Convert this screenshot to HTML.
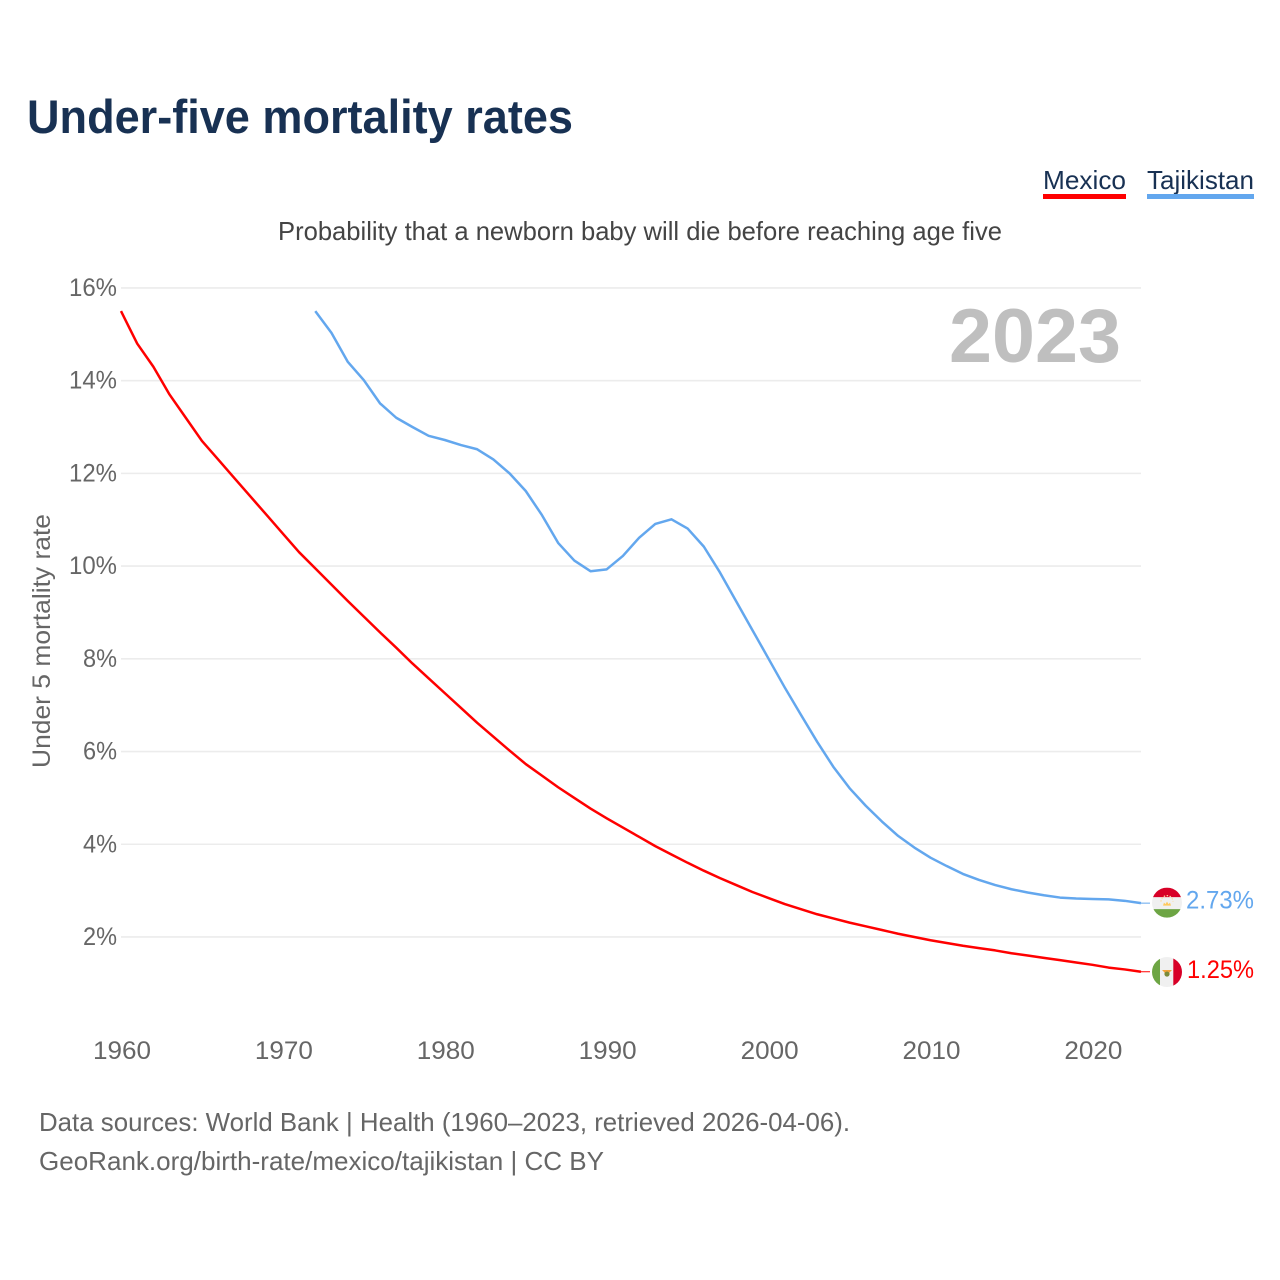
<!DOCTYPE html>
<html lang="en">
<head>
<meta charset="utf-8">
<title>Under-five mortality rates</title>
<style>
html,body{margin:0;padding:0;background:#fff;width:1280px;height:1280px;overflow:hidden}
svg{display:block}
text{font-family:"Liberation Sans",sans-serif}
</style>
</head>
<body>
<svg id="chart" xmlns="http://www.w3.org/2000/svg" width="1280" height="1280" viewBox="0 0 1280 1280">
  <text x="27" y="133" font-size="47" font-weight="700" fill="#183153" textLength="546" lengthAdjust="spacingAndGlyphs">Under-five mortality rates</text>
  <g>
    <text x="1043" y="189" font-size="26" fill="#183153" textLength="83" lengthAdjust="spacingAndGlyphs">Mexico</text>
    <rect x="1043" y="194" width="83" height="5" fill="#ff0000"/>
  </g>
  <g>
    <text x="1147" y="189" font-size="26" fill="#183153" textLength="107" lengthAdjust="spacingAndGlyphs">Tajikistan</text>
    <rect x="1147" y="194" width="107" height="5" fill="#63a7ee"/>
  </g>
  <text x="278" y="240" font-size="26" fill="#444444" textLength="724" lengthAdjust="spacingAndGlyphs">Probability that a newborn baby will die before reaching age five</text>
  <g id="grid"></g>
  <g id="yticks"></g>
  <g id="xticks"></g>
  <text transform="translate(50,768) rotate(-90)" x="0" y="0" font-size="25" fill="#666666" textLength="254" lengthAdjust="spacingAndGlyphs">Under 5 mortality rate</text>
  <text x="949" y="362" font-size="76" font-weight="700" fill="#bfbfbf" textLength="172" lengthAdjust="spacingAndGlyphs">2023</text>
  <g id="series"></g>
  <g id="flag-tj"></g>
  <g id="flag-mx"></g>
  <g id="endlabels"></g>
  <text x="39" y="1131" font-size="26" fill="#666666" textLength="811" lengthAdjust="spacingAndGlyphs">Data sources: World Bank | Health (1960–2023, retrieved 2026-04-06).</text>
  <text x="39" y="1170" font-size="26" fill="#666666" textLength="565" lengthAdjust="spacingAndGlyphs">GeoRank.org/birth-rate/mexico/tajikistan | CC BY</text>
</svg>
<script>
const yTickValues = [2, 4, 6, 8, 10, 12, 14, 16];
const xTickYears = [1960, 1970, 1980, 1990, 2000, 2010, 2020];
const mexicoStartYear = 1960;
const mexicoValues = [15.5,14.8,14.3,13.7,13.2,12.7,12.3,11.9,11.5,11.1,10.7,10.3,9.95,9.6,9.25,8.91,8.57,8.24,7.9,7.58,7.26,6.94,6.62,6.32,6.02,5.73,5.48,5.23,5.0,4.77,4.56,4.36,4.16,3.96,3.78,3.6,3.43,3.27,3.12,2.97,2.84,2.71,2.6,2.49,2.4,2.31,2.23,2.15,2.07,2.0,1.93,1.87,1.81,1.76,1.71,1.65,1.6,1.55,1.5,1.45,1.4,1.34,1.3,1.25];
const tajikistanStartYear = 1972;
const tajikistanValues = [15.5,15.03,14.41,14.01,13.51,13.2,13.0,12.81,12.72,12.61,12.52,12.3,12.0,11.62,11.1,10.5,10.12,9.89,9.93,10.22,10.61,10.91,11.01,10.81,10.42,9.86,9.24,8.62,8.0,7.38,6.79,6.21,5.67,5.21,4.83,4.49,4.18,3.93,3.71,3.53,3.36,3.23,3.12,3.03,2.96,2.9,2.85,2.83,2.82,2.81,2.78,2.73];
const mexicoEndLabel = "1.25%";
const tajikistanEndLabel = "2.73%";

const NS = "http://www.w3.org/2000/svg";
function xScale(year) { return 121 + (year - 1960) * 16.19; }
function yScale(v) { return 1029.7 - v * 46.36; }
function mk(tag, parent, attrs) {
  const el = document.createElementNS(NS, tag);
  for (const k in attrs) el.setAttribute(k, attrs[k]);
  parent.appendChild(el);
  return el;
}

const grid = document.getElementById("grid");
const yticks = document.getElementById("yticks");
yTickValues.forEach(function (v) {
  const line = mk("line", grid, {x1: 121, x2: 1141, y1: yScale(v), y2: yScale(v), stroke: "#ececec", "stroke-width": 1.6});
  
  
  const label = v + "%";
  const t = mk("text", yticks, {x: 117, y: yScale(v) + 8, "text-anchor": "end", "font-size": 25, fill: "#666666", textLength: label.length === 3 ? 48 : 34, lengthAdjust: "spacingAndGlyphs"});
  
  
  t.textContent = label;
});

const xticks = document.getElementById("xticks");
xTickYears.forEach(function (yr) {
  const t = mk("text", xticks, {x: xScale(yr) + 1, y: 1059, "text-anchor": "middle", "font-size": 25, fill: "#666666", textLength: 58, lengthAdjust: "spacingAndGlyphs"});
  
  
  t.textContent = yr;
});

function pathFor(values, start) {
  return values.map(function (v, i) {
    return (i ? "L" : "M") + xScale(start + i).toFixed(2) + " " + yScale(v).toFixed(2);
  }).join(" ");
}
const series = document.getElementById("series");
const mxLine = mk("path", series, {d: pathFor(mexicoValues, mexicoStartYear), fill: "none", stroke: "#ff0000", "stroke-width": 2.5, "stroke-linejoin": "round"});


const tjLine = mk("path", series, {d: pathFor(tajikistanValues, tajikistanStartYear), fill: "none", stroke: "#63a7ee", "stroke-width": 2.5, "stroke-linejoin": "round"});



const mxLast = yScale(mexicoValues[mexicoValues.length - 1]);
const tjLast = yScale(tajikistanValues[tajikistanValues.length - 1]);
const lastX = xScale(2023);
const mxLead = mk("line", series, {x1: lastX, x2: 1150, y1: mxLast, y2: mxLast, stroke: "#ff0000", "stroke-width": 1});


const tjLead = mk("line", series, {x1: lastX, x2: 1150, y1: tjLast, y2: tjLast, stroke: "#63a7ee", "stroke-width": 1});



/* flags follow the series end values */
const cx = 1167, r = 15;
const tj = document.getElementById("flag-tj");
const tjY = tjLast - 0.5;
const clipT = mk("clipPath", tj, {id: "clip-tj"});
mk("circle", clipT, {cx: cx, cy: tjY, r: r});
const tjBands = mk("g", tj, {"clip-path": "url(#clip-tj)"});
mk("rect", tjBands, {x: cx - r, y: tjY - r, width: 30, height: 30, fill: "#f0f0f0"});
mk("rect", tjBands, {x: cx - r, y: tjY - r, width: 30, height: 9.5, fill: "#d80027"});
mk("rect", tjBands, {x: cx - r, y: tjY + 6.5, width: 30, height: 9, fill: "#6da544"});
mk("path", tj, {d: "M" + (cx - 4) + " " + (tjY + 3) + "l1-3 1.5 1.5 1.5-2.5 1.5 2.5 1.5-1.5 1 3z", fill: "#ffc95e"});
mk("path", tj, {d: "M" + (cx - 6) + " " + (tjY - 1) + "a6 6 0 0 1 12 0", fill: "none", stroke: "#ffda9c", "stroke-width": 1.2, "stroke-dasharray": "1.5 1.5"});

const mx = document.getElementById("flag-mx");
const mxY = mxLast + 0.3;
const clipM = mk("clipPath", mx, {id: "clip-mx"});
mk("circle", clipM, {cx: cx, cy: mxY, r: r});
const mxBands = mk("g", mx, {"clip-path": "url(#clip-mx)"});
mk("rect", mxBands, {x: cx - r, y: mxY - r, width: 30, height: 30, fill: "#f0f0f0"});
mk("rect", mxBands, {x: cx - r, y: mxY - r, width: 8, height: 30, fill: "#6da544"});
mk("rect", mxBands, {x: cx + 6.3, y: mxY - r, width: 9, height: 30, fill: "#d80027"});
mk("path", mx, {d: "M" + (cx - 5) + " " + (mxY - 2) + "h10l-2 2a3.5 3.5 0 0 1-6 0z", fill: "#f2a33a"});
mk("circle", mx, {cx: cx, cy: mxY + 2, r: 2.6, fill: "#7a8a3a"});

const endlabels = document.getElementById("endlabels");
const tjText = mk("text", endlabels, {x: 1186, y: tjLast + 5.5, "font-size": 25, fill: "#63a7ee", textLength: 68, lengthAdjust: "spacingAndGlyphs"});


tjText.textContent = tajikistanEndLabel;
const mxText = mk("text", endlabels, {x: 1187, y: mxLast + 6, "font-size": 25, fill: "#ff0000", textLength: 67, lengthAdjust: "spacingAndGlyphs"});


mxText.textContent = mexicoEndLabel;
</script>
</body>
</html>
